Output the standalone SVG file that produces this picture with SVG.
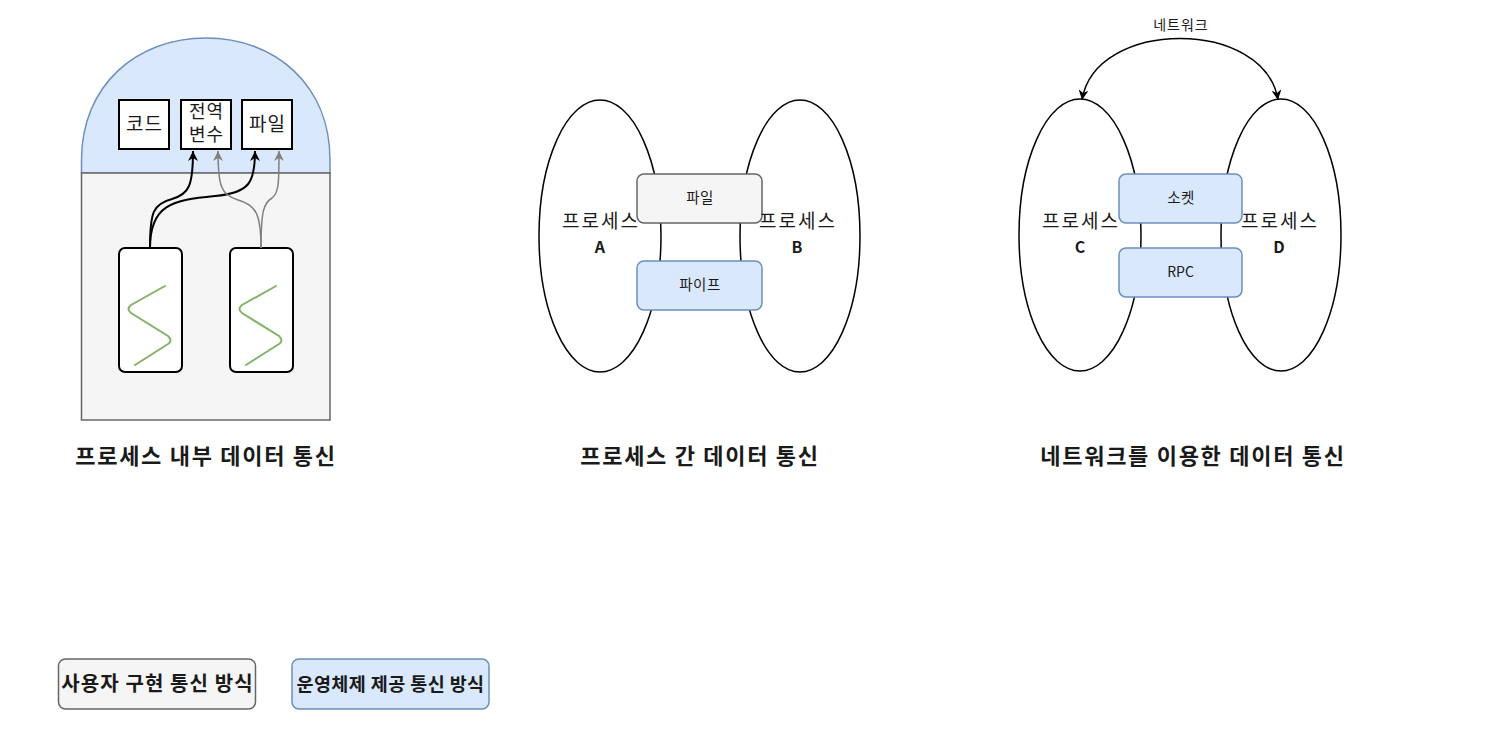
<svg xmlns="http://www.w3.org/2000/svg" width="1508" height="746" viewBox="0 0 1508 746">
<style>
.t{font-family:"Noto Sans CJK KR","Liberation Sans",sans-serif;fill:#1a1a1a;text-anchor:middle}
.b{font-weight:bold}
.box{fill:#fff;stroke:#000;stroke-width:2}
.gr{fill:#f5f5f5;stroke:#666;stroke-width:1.5}
.bl{fill:#dae8fc;stroke:#6c8ebf;stroke-width:1.5}
.ell{fill:#fff;stroke:#000;stroke-width:1.5}
.thr{fill:#fff;stroke:#000;stroke-width:2}
.zz{fill:none;stroke:#82b366;stroke-width:2;stroke-linecap:round}
.pl{font-size:19px;letter-spacing:2px}
.ttl{font-size:22px;font-weight:bold;letter-spacing:1.7px}
</style>
<defs>
<marker id="ak" markerUnits="userSpaceOnUse" markerWidth="11" markerHeight="10" refX="10" refY="5" orient="auto-start-reverse"><path d="M0,0 L10,5 L0,10 L3,5 z" fill="#000"/></marker>
<marker id="ag" markerUnits="userSpaceOnUse" markerWidth="11" markerHeight="10" refX="10" refY="5" orient="auto"><path d="M0,0 L10,5 L0,10 L3,5 z" fill="#808080"/></marker>
</defs>
<rect width="1508" height="746" fill="#fff"/>

<g id="process-inner">
<path d="M81.5,173 L81.5,160 C81.5,85 137,38 206,38 C275,38 330,85 330,160 L330,173 Z" fill="#dae8fc" stroke="#6c8ebf" stroke-width="1.5"/>
<rect x="81.5" y="173" width="248.5" height="247" fill="#f5f5f5" stroke="#666" stroke-width="1.5"/>
</g>
<g id="code"><rect class="box" x="119" y="100" width="50" height="49"/><text class="t" x="144.5" y="131" font-size="19" letter-spacing="1">코드</text></g>
<g id="globals"><rect class="box" x="181" y="100" width="50" height="49"/><text class="t" x="206.5" y="118" font-size="18" letter-spacing="1">전역</text><text class="t" x="206.5" y="141" font-size="18" letter-spacing="1">변수</text></g>
<g id="file-inner"><rect class="box" x="242" y="100" width="50" height="49"/><text class="t" x="267.5" y="131" font-size="19" letter-spacing="1">파일</text></g>
<g id="thread1"><rect class="thr" x="119" y="248" width="63" height="124" rx="6"/><path class="zz" d="M165,286 L131,305 Q126,309 131,313 L168,336 Q173,341 168,344 L135,365"/></g>
<g id="thread2"><rect class="thr" x="230" y="248" width="63" height="124" rx="6"/><path class="zz" d="M276,286 L242,305 Q237,309 242,313 L279,336 Q284,341 279,344 L246,365"/></g>

<g id="connectors" fill="none">
<path d="M150,248 C150,212 153,204 172,199 C189,194 193,186 193,151" stroke="#000" stroke-width="2" marker-end="url(#ak)"/>
<path d="M150,248 C150,205 172,200 215,196 C250,193 255,182 255,151" stroke="#000" stroke-width="2" marker-end="url(#ak)"/>
<path d="M261,248 C261,214 256,205 238,200 C221,195 218,186 218,151" stroke="#808080" stroke-width="1.5" marker-end="url(#ag)"/>
<path d="M261,248 C261,210 264,203 272,198 C279,193 279,182 279,151" stroke="#808080" stroke-width="1.5" marker-end="url(#ag)"/>
<path d="M1082,100 C1095,18 1265,18 1278,100" stroke="#000" stroke-width="1.5" marker-start="url(#ak)" marker-end="url(#ak)"/>
</g>

<g id="processA"><ellipse class="ell" cx="600" cy="236" rx="61" ry="136"/></g>
<g id="processB"><ellipse class="ell" cx="800" cy="236" rx="60" ry="136"/></g>
<g id="file-ipc"><rect class="gr" x="637" y="174" width="125" height="49" rx="7"/><text class="t" x="700" y="203" font-size="14.5" letter-spacing="0.5">파일</text></g>
<g id="pipe"><rect class="bl" x="637" y="261" width="125" height="49" rx="7"/><text class="t" x="700" y="290" font-size="14.5" letter-spacing="0.5">파이프</text></g>
<g id="labelA"><text class="t pl" x="601" y="228">프로세스</text><text class="t b" x="600" y="253" font-size="16">A</text></g>
<g id="labelB"><text class="t pl" x="798" y="228">프로세스</text><text class="t b" x="797" y="253" font-size="16">B</text></g>

<g id="processC"><ellipse class="ell" cx="1080" cy="235" rx="61" ry="136"/></g>
<g id="processD"><ellipse class="ell" cx="1281" cy="235" rx="60" ry="136"/></g>
<g id="socket"><rect class="bl" x="1119" y="174" width="123" height="49" rx="7"/><text class="t" x="1181" y="203" font-size="14.5" letter-spacing="0.5">소켓</text></g>
<g id="rpc"><rect class="bl" x="1119" y="248" width="123" height="49" rx="7"/><text class="t" x="1180.5" y="277" font-size="14">RPC</text></g>
<g id="labelC"><text class="t pl" x="1081" y="228">프로세스</text><text class="t b" x="1080" y="253" font-size="16">C</text></g>
<g id="labelD"><text class="t pl" x="1280" y="228">프로세스</text><text class="t b" x="1279" y="253" font-size="16">D</text></g>
<g id="network-label"><text class="t" x="1181" y="30" font-size="14" letter-spacing="1">네트워크</text></g>

<g id="titles">
<text class="t ttl" x="206" y="464">프로세스 내부 데이터 통신</text>
<text class="t ttl" x="700" y="464">프로세스 간 데이터 통신</text>
<text class="t ttl" x="1193" y="464">네트워크를 이용한 데이터 통신</text>
</g>

<g id="legend-user"><rect class="gr" x="58.5" y="659" width="197" height="50" rx="7" stroke-width="2"/><text class="t b" x="157.5" y="691" font-size="20" letter-spacing="1.1">사용자 구현 통신 방식</text></g>
<g id="legend-os"><rect class="bl" x="292" y="659" width="197" height="50" rx="7" stroke-width="2"/><text class="t b" x="390.5" y="691" font-size="18.5" letter-spacing="0.4">운영체제 제공 통신 방식</text></g>
</svg>
